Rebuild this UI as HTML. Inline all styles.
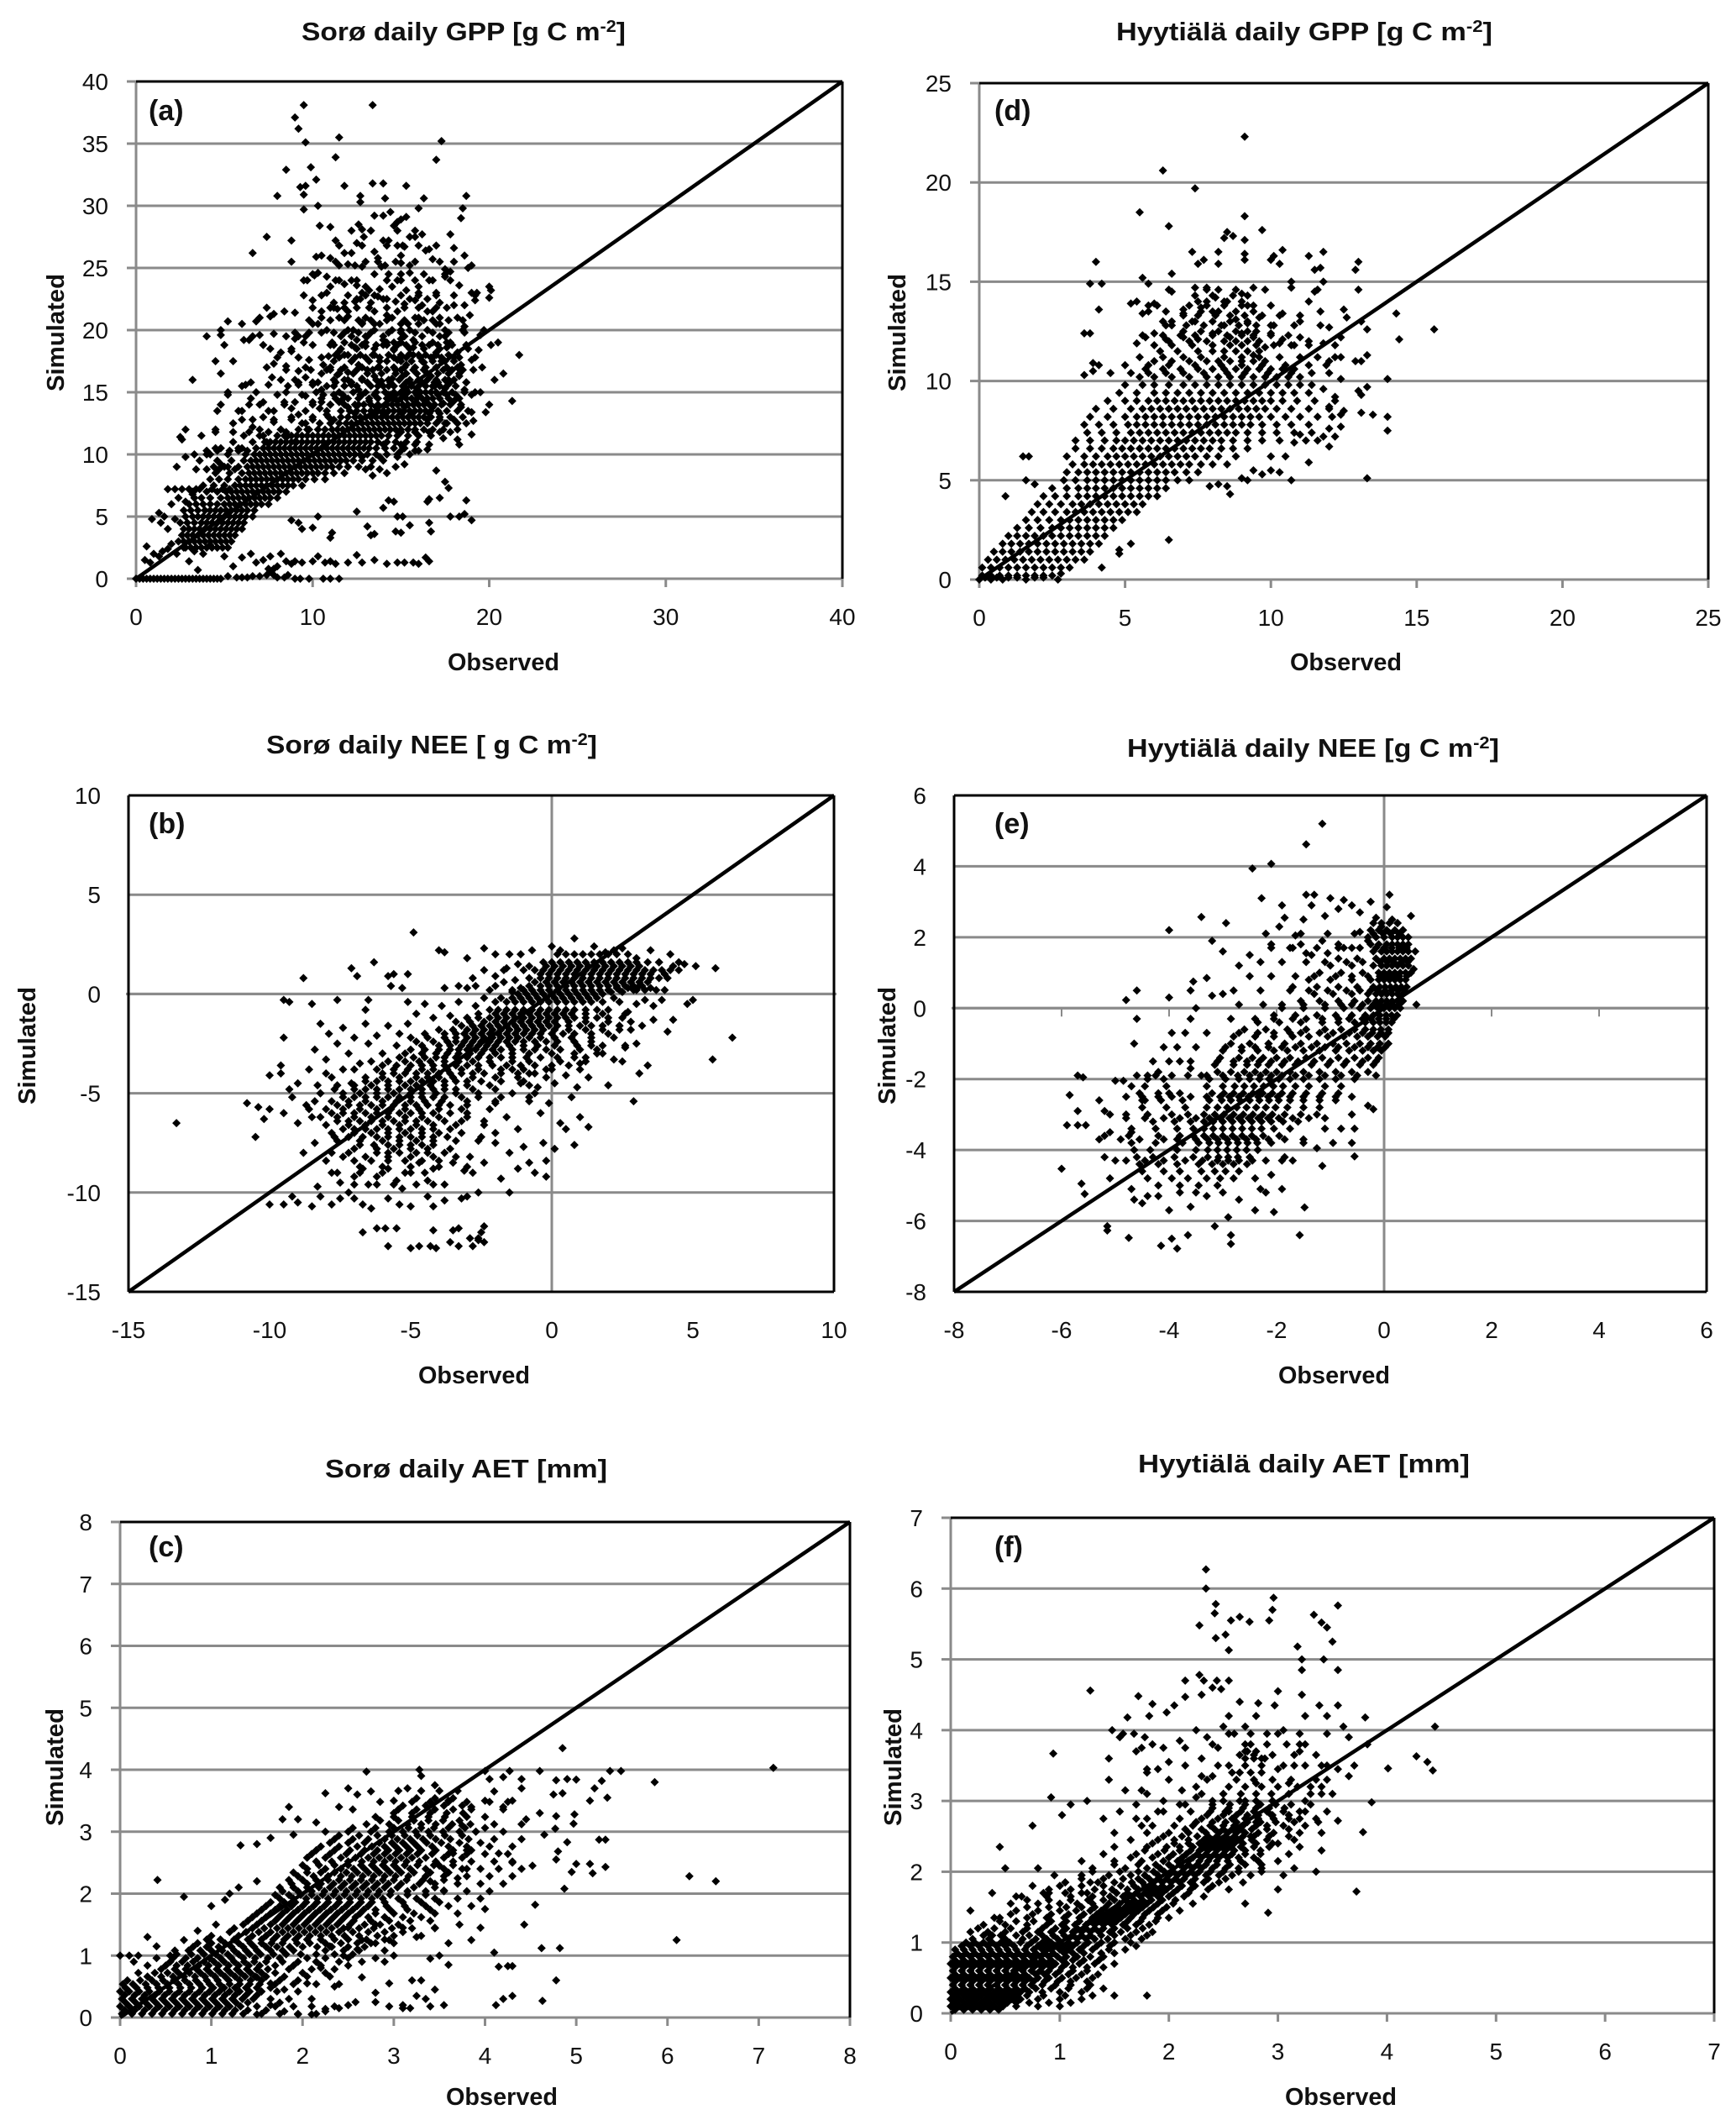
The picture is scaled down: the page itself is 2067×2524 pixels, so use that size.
<!DOCTYPE html>
<html lang="en">
<head>
<meta charset="utf-8">
<title>Simulated vs observed daily GPP, NEE and AET at Sorø and Hyytiälä</title>
<style>
html,body{margin:0;padding:0;background:#fff}
svg{display:block}
text{font-family:"Liberation Sans",sans-serif;fill:#111}
.bold{font-weight:bold}
</style>
</head>
<body>
<svg id="figure" xmlns="http://www.w3.org/2000/svg" width="2067" height="2524" viewBox="0 0 2067 2524">
<rect width="2067" height="2524" fill="#fff"/>
<g>
<text class="bold" x="359" y="48" font-size="31" textLength="386" lengthAdjust="spacingAndGlyphs">Sorø daily GPP [g C m<tspan dy="-10" font-size="20">-2</tspan><tspan dy="10">]</tspan></text>
<text class="bold" x="1329" y="48" font-size="31" textLength="448" lengthAdjust="spacingAndGlyphs">Hyytiälä daily GPP [g C m<tspan dy="-10" font-size="20">-2</tspan><tspan dy="10">]</tspan></text>
<text class="bold" x="317" y="897" font-size="31" textLength="394" lengthAdjust="spacingAndGlyphs">Sorø daily NEE [ g C m<tspan dy="-10" font-size="20">-2</tspan><tspan dy="10">]</tspan></text>
<text class="bold" x="1342" y="901" font-size="31" textLength="443" lengthAdjust="spacingAndGlyphs">Hyytiälä daily NEE [g C m<tspan dy="-10" font-size="20">-2</tspan><tspan dy="10">]</tspan></text>
<text class="bold" x="387" y="1759" font-size="31" textLength="336" lengthAdjust="spacingAndGlyphs">Sorø daily AET [mm]</text>
<text class="bold" x="1355" y="1753" font-size="31" textLength="395" lengthAdjust="spacingAndGlyphs">Hyytiälä daily AET [mm]</text>
</g>
</svg>
<script>
/* Tick labels */
const ticksSoroGppX=[0,10,20,30,40];
const ticksSoroGppY=[0,5,10,15,20,25,30,35,40];
const ticksHyyGpp=[0,5,10,15,20,25];
const ticksSoroNee=[-15,-10,-5,0,5,10];
const ticksHyyNee=[-8,-6,-4,-2,0,2,4,6];
const ticksSoroAet=[0,1,2,3,4,5,6,7,8];
const ticksHyyAet=[0,1,2,3,4,5,6,7];

/* Observed,simulated pairs. GPP and Sorø NEE are in tenths; Hyytiälä NEE and all AET in hundredths. */
const soroGppPairs=[95,381,134,381,90,371,92,362,96,351,115,355,113,339,173,352,170,337,85,329,99,331,102,321,93,315,96,316,95,309,80,308,118,316,134,318,140,318,153,316,127,308,127,303,141,306,187,308,185,298,184,290,163,306,160,298,95,297,103,300,144,295,140,292,135,292,
113,272,122,262,118,262,105,260,102,259,110,258,115,252,120,253,124,252,128,251,125,270,126,285,128,281,133,280,129,275,135,263,137,258,140,272,143,272,141,252,139,251,146,284,150,289,148,287,153,291,148,268,152,267,158,275,155,275,162,277,150,254,150,260,155,252,164,264,166,265,168,257,175,249,178,277,180,266,186,260,190,252,188,250,66,262,74,275,88,272,88,255,104,284,110,283,
95,240,101,244,103,246,108,243,113,240,118,237,122,240,125,236,128,230,132,232,138,233,143,245,150,240,153,232,155,246,160,230,163,245,166,240,170,230,175,243,178,247,183,236,190,230,200,235,201,232,200,226,193,230,192,224,100,224,108,230,112,222,118,222,124,223,127,225,133,222,137,227,142,225,147,223,152,221,158,224,162,220,172,222,180,220,186,220,
74,218,70,210,68,207,76,211,78,213,84,215,90,214,105,215,110,218,114,217,118,218,120,211,123,200,128,206,131,195,135,205,142,212,146,190,150,200,154,205,157,192,160,210,165,200,168,215,172,205,175,195,178,190,185,200,189,212,195,196,197,200,40,195,48,200,60,205,61,192,66,195,70,196,78,197,85,195,90,193,96,195,100,205,105,198,111,190,116,195,125,192,140,192,150,193,182,210,186,203,52,207,48,196,
50,188,64,192,72,188,76,185,82,182,88,183,92,178,98,176,106,172,112,188,115,183,118,180,122,175,126,172,130,187,134,180,138,175,142,188,146,184,150,178,153,172,157,186,160,180,163,174,166,188,170,182,173,175,176,186,180,178,184,172,188,185,194,184,201,188,205,190,217,180,213,143,208,165,203,160,190,176,196,170,45,175,55,175,78,173,85,171,109,179,124,186,137,170,148,176,155,181,168,178,182,182,
48,165,60,155,65,158,68,150,74,170,77,162,82,160,86,155,92,167,96,162,100,158,105,152,110,168,114,164,118,160,122,156,126,152,131,168,135,163,139,159,143,155,147,168,151,163,155,158,159,153,163,168,167,163,171,158,175,153,179,168,183,163,187,158,192,150,186,152,195,150,52,150,32,160,112,155,120,166,128,161,137,155,145,161,153,152,161,158,169,155,177,160,
52,148,48,140,46,135,58,135,65,145,70,140,75,135,80,148,84,142,88,137,92,132,96,147,100,142,104,137,108,132,112,148,116,143,120,138,124,133,128,148,132,143,136,138,140,133,144,148,148,143,152,138,156,133,160,148,164,143,168,138,172,133,176,148,180,143,184,138,188,135,200,140,190,134,198,134,110,140,118,146,126,140,134,133,142,140,150,134,158,141,166,133,174,141,
37,115,25,114,28,120,26,112,45,120,55,125,60,128,66,122,70,115,74,110,78,126,82,120,86,115,90,110,94,125,97,120,175,125,178,118,182,120,187,125,190,116,191,127,174,113,
23,90,28,98,33,100,36,95,40,100,45,105,48,92,52,90,58,105,151,106,155,100,160,103,165,104,183,108,182,112,
18,72,22,72,26,72,30,72,34,72,130,88,134,83,138,88,142,85,147,90,152,92,170,87,175,78,177,73,
20,60,24,65,28,62,32,68,125,54,140,57,143,63,146,62,151,50,165,62,166,64,172,65,187,63,16,50,13,53,9,48,183,50,186,52,190,47,178,50,
14,45,18,40,22,48,88,47,92,45,94,40,100,41,103,50,111,37,110,33,131,42,133,35,135,36,147,38,150,37,148,50,155,43,166,45,167,38,
6,26,5,15,8,13,10,20,13,18,15,22,18,24,20,28,23,20,27,25,30,14,33,22,35,7,38,20,42,27,46,25,50,18,55,10,60,17,65,20,68,13,72,15,75,8,78,8,85,14,88,12,82,20,76,18,80,10,90,14,94,13,100,14,103,18,107,13,110,14,113,12,120,13,125,19,128,13,135,15,142,12,148,13,152,13,157,13,160,12,164,17,166,14,
52,2,57,1,60,1,63,1,66,2,70,2,74,3,76,6,78,3,80,1,84,1,86,3,90,0,93,0,98,0,106,0,110,0,115,0];
/* Dense-cloud readings, one row per simulated level: [simulated, observed, observed, ...] */
const soroGppRows=[[0,0,2,4,6,8,10,12,14,16,18,20,22,24,26,28,30,32,34,36,38,40,42,44,46,48],
[25,28,31,34,37,40,43,46,49,52],[30,24,27,30,33,36,39,42,45,48,51,54],[35,26,29,32,35,38,41,44,47,50,53,56],[40,27,30,33,36,39,42,45,48,51,54,57,60],[45,25,29,33,37,40,43,46,49,52,55,58,61],[50,28,32,35,38,41,44,47,50,53,56,59,62,66],[55,27,31,35,39,42,45,48,51,54,57,60,63,67],[60,30,34,38,42,46,50,53,56,59,62,65,68,71,75],[65,33,37,42,48,52,55,58,61,64,67,70,73,76,80],[70,32,40,46,51,54,57,60,63,66,69,72,75,78,81,85],[75,38,44,50,56,59,62,65,68,71,74,77,80,83,86,89,94],[80,42,47,52,58,62,65,68,71,74,77,80,83,86,89,92,96,101,107],[85,45,53,60,64,67,70,73,76,79,82,85,88,91,94,97,100,103,107,112,118],[90,44,50,58,63,66,69,72,75,78,81,84,87,90,93,96,99,102,105,108,111,115,120,126,133],[95,46,54,61,65,68,71,74,77,80,83,86,89,92,95,98,101,104,107,110,113,116,119,123,128,134,140],[100,42,52,62,67,70,73,76,79,82,85,88,91,94,97,100,103,106,109,112,115,118,121,124,127,131,136,142,148],[105,48,60,68,72,75,78,81,84,87,90,93,96,99,102,105,108,111,114,117,120,123,126,129,132,136,141,146,152],[110,55,66,73,76,79,82,85,88,91,94,97,100,103,106,109,112,115,118,121,124,127,130,133,137,142,147,153,159],[115,61,72,80,84,88,91,94,97,100,103,106,109,112,115,118,121,124,127,130,133,136,139,143,148,154,160,167],[120,70,82,92,98,103,107,111,114,117,120,123,126,129,132,135,138,141,144,147,150,154,158,163,168,174],[125,96,104,110,115,119,122,125,128,131,134,137,140,143,146,149,152,155,158,161,165,170,176,182],[130,72,88,100,109,116,120,124,127,130,133,136,139,142,145,148,151,154,157,160,163,167,172,178,185],[135,60,78,96,108,116,121,125,129,133,137,140,143,146,149,152,155,158,161,164,167,171,176,182],[140,64,84,100,110,118,124,129,133,137,141,145,148,151,154,157,160,163,166,169,173,178,184],[145,105,113,120,126,132,137,142,146,150,153,156,159,162,165,168,172,177,183],[150,85,102,115,123,130,136,141,146,150,154,158,161,164,167,170,174,179,186],[155,108,118,125,133,140,146,151,156,160,164,168,172,176,181],[160,90,112,120,128,136,143,149,155,160,165,170,175,180],[165,105,115,123,131,139,147,153,159,165,171,177,183],[170,96,110,118,128,138,146,152,158,164,170,176,182],[175,112,122,132,142,150,156,162,168,175,180],[180,113,120,127,135,143,150,157,164,170,177],[185,88,116,125,135,146,155,163,172],[190,95,118,130,142,150,158,168,176],[195,92,122,130,140,152,162,172],[200,108,120,135,145,155,165,175],[205,103,128,138,150,160,170],[210,105,115,130,145,158,172],[215,120,135,148,165],[225,125,140,155,165],[235,110,130,145,160],[245,100,135,150,175],
[148,94,106,117,127,135,143,151,159,171,181,190],[158,92,103,113,122,131,138,144,153,162,169,178,187],[168,85,99,108,116,125,134,142,150,157,163,174,185,191],[178,80,92,105,115,124,130,138,146,153,161,167,173,183,192],[188,100,110,122,128,136,140,148,153,162,171,179,187],[198,90,98,112,118,126,133,143,150,158,168,177,186],[208,98,110,118,126,133,142,152,163,168,177,185],[218,100,112,125,132,142,152,160,170,176],[228,95,105,120,130,135,150,160,170,180,192],[240,97,115,125,142,148,158,168,178],[255,113,130,137,147,158,172,180],[268,115,128,142,151,160,170],[280,122,133,148,158],
[72,36,43,49,53],[88,34,40,47,56],[103,40,46,53,58,63,150,158],[118,45,55,64,75,85,150,158,166,172],[128,66,78,88,100,112,165,172,180],[142,72,90,105,115],[156,62,75,92,100],[108,140,150,158,166],[98,128,138,148]];

const hyyGppPairs=[91,223,63,206,74,197,55,185,91,183,65,178,97,176,85,175,87,173,91,171,84,172,73,165,82,165,75,159,77,161,82,159,91,164,91,161,101,163,100,161,104,166,103,159,113,163,118,165,115,156,117,157,130,160,129,156,40,160,38,149,42,149,66,154,56,152,58,149,60,139,64,135,41,136,156,126,143,134,133,51,107,50,113,59,
0,0,2,1,4,0,6,1,8,0,10,1,13,1,16,0,19,1,22,1,27,0,28,3,42,6,48,13,52,18,65,20,48,15,9,42,16,50,19,48,17,62,15,62,86,43,85,47,82,48,79,47,92,50,97,53,100,55,103,54,94,55,90,51,105,62,100,62,108,69,112,70,116,70,120,67,122,72,118,72,124,77,114,74,110,73,121,82,120,76,124,83,131,84,140,75,140,82,135,83,125,85,120,87,130,95,131,93,133,97,118,96,122,92,124,101,129,110,131,110,133,113,140,101,124,112,122,118,120,110,113,120,118,119,144,121,124,122,133,126,110,122,36,124,38,124,39,105,39,109,41,108,36,103,
56,134,58,135,61,138,63,130,66,128,70,134,73,130,76,137,80,135,84,128,88,131,92,138,96,132,100,128,104,134,110,130,113,140,117,128,120,127,125,136,126,132,131,130,52,139,54,140,66,145,70,136,75,140,78,146,81,142,85,140,88,146,90,144,94,147,98,146,92,129,66,130,65,146,74,147,78,147,82,146,117,135,116,146,115,145,130,146,118,150,107,150,107,147,54,119,57,122,60,124,64,121,70,122,75,121,80,124,86,122,90,124,94,122,100,124,104,121,103,119,108,118,98,117,94,113];
const hyyGppRows=[[2,1,4,7,10,13,16,19,22,25],[6,1,4,7,10,13,16,19,22,25,28,31],[10,3,6,9,12,15,18,21,24,27,30,33,36],[14,5,8,11,14,17,20,23,26,29,32,35,38],[18,8,11,14,17,20,23,26,29,32,35,38,41],[22,10,13,16,19,22,25,28,31,34,37,40,43],[26,13,17,21,25,28,31,34,37,40,43,46],[30,16,20,24,28,31,34,37,40,43,46,49],[34,18,22,26,30,33,36,39,42,45,48,51,54],[38,20,24,28,32,35,38,41,44,47,50,53,56],[42,22,26,30,34,37,40,43,46,49,52,55,58,61],[46,25,30,34,37,40,43,46,49,52,55,58,61,64],[50,29,33,37,40,43,46,49,52,55,58,61,64,68,72],[54,30,34,37,40,43,46,49,52,55,58,61,64,67,71,75],[58,32,36,39,42,45,48,51,54,57,60,63,66,69,72,76,80,85],[62,30,36,40,44,47,50,53,56,59,62,65,68,71,74,78,82,88],[66,33,38,42,46,49,52,55,58,61,64,67,70,73,76,79,83,87,92],[70,33,38,43,47,50,53,56,59,62,65,68,71,74,77,80,83,87,92,97,103],[74,37,42,47,52,55,58,61,64,67,70,73,76,79,82,85,88,92,97,102,108],[78,36,41,46,51,54,57,60,63,66,69,72,75,78,81,84,87,90,93,97,102,107,113],[82,38,44,50,54,57,60,63,66,69,72,75,78,81,84,87,90,93,96,100,105,110,116],[86,40,46,52,56,59,62,65,68,71,74,77,80,83,86,89,92,95,98,102,107,113,120],[90,44,50,54,58,61,64,67,70,73,76,79,82,85,88,91,94,97,100,104,109,115,122],[94,48,54,60,64,68,72,76,80,84,88,92,96,100,104,108,113],[98,50,56,60,65,70,74,78,82,86,90,94,98,102,106,110,114],[102,55,60,66,72,78,82,86,90,94,98,102,106,110],[106,57,63,69,75,80,84,88,92,96,100,104,108],[110,60,66,72,78,82,86,90,94,98],[115,62,68,75,80,84,88,92,96],[120,65,72,78,84,88,92,96],[125,70,76,82,88,92,95],[130,74,80,86,92],[135,76,82,88,94],[140,78,84,90],
[104,45,52,58,64,70,77,85,91,99,107,114,120],[108,50,58,65,74,83,90,97,105,113,119],[112,55,63,70,76,84,90,96,103,110,116,122],[118,60,66,73,80,86,90,95,101,107,113],[123,56,63,69,74,80,85,90,94,100,106],[128,64,71,77,83,89,95,101,108],[133,70,75,81,86,91,97,103,110],[138,58,72,78,84,90,94,100],[143,74,80,87,92]];

const soroNeePairs=[-133,-65,-49,31,-88,8,64,-22,57,-33,58,13,51,14,29,-54,-105,-72,-108,-55,-104,-57,-100,-58,-102,-63,-100,-41,-96,-36,-95,-3,-93,-4,-85,-5,-76,-3,-66,-8,-65,-3,-58,9,-51,-4,-56,10,-71,13,-69,9,-63,16,-51,10,-57,4,-53,3,
-67,-120,-62,-118,-59,-118,-55,-118,-42,-119,-35,-119,-33,-118,-24,-117,-25,-120,-29,-123,-26,-123,-24,-125,-58,-127,-50,-128,-47,-127,-43,-127,-41,-128,-36,-125,-33,-127,-28,-127,-26,-124,
-100,-106,-95,-106,-90,-105,-92,-102,-85,-107,-82,-102,-78,-106,-75,-103,-70,-103,-67,-106,-64,-108,-58,-103,-54,-106,-50,-107,-44,-102,-42,-107,-38,-104,-32,-103,-30,-102,-26,-100,-15,-100,
-83,-97,-78,-90,-75,-95,-72,-100,-70,-92,-67,-88,-65,-96,-62,-92,-58,-88,-55,-94,-53,-98,-50,-90,-47,-85,-44,-94,-42,-88,-38,-96,-35,-85,-31,-89,-28,-90,-24,-85,-18,-93,-12,-88,-6,-90,-2,-92,-8,-85,
-88,-80,-84,-75,-80,-84,-77,-72,-29,-82,-25,-72,-20,-75,-15,-80,-10,-77,-3,-75,-2,-84,1,-78,5,-68,8,-76,
-95,-60,-92,-52,-90,-65,-87,-56,-85,-62,-82,-50,-24,-64,-20,-55,-16,-62,-12,-68,-8,-52,-4,-60,-1,-55,3,-65,7,-52,10,-62,13,-67,
-96,-40,-93,-48,-90,-45,-86,-38,-83,-46,-80,-40,-77,-48,-74,-38,-71,-45,-14,-38,-11,-45,-8,-40,-5,-47,-2,-38,1,-45,5,-41,9,-47,13,-42,20,-46,25,-34,31,-40,34,-36,
-84,-28,-80,-33,-76,-25,-72,-30,-68,-35,-65,-25,10,-35,14,-26,18,-30,22,-33,26,-27,30,-25,
-95,-22,-82,-15,-79,-20,-74,-17,-70,-22,-66,-15,-62,-21,-58,-16,-54,-20,-51,-15,24,-16,28,-18,32,-16,36,-13,41,-19,43,-13,
-48,-10,-45,-5,-42,-12,-39,-6,-36,-11,-33,-4,-30,-12,-27,-6,24,-4,27,-9,30,-5,33,-3,36,-6,39,-3,48,-5,50,-3,
-30,3,-27,4,-33,4,-38,3,-22,2,-20,4,-17,6,-14,1,-11,3,21,1,23,3,25,1,27,3,29,2,31,4,33,2,35,3,37,2,40,2,
-40,22,-38,21,-30,18,-24,23,-20,20,-15,20,-11,20,-7,22,0,24,3,22,8,28,11,20,15,24,19,21,22,22,25,23,27,20,30,18,35,22,38,16,42,20,45,16,47,15,43,14,-28,8,-24,12,-20,9,-17,12,-13,7,-10,12,-16,13,-12,15,-8,14];
const soroNeeRows=[[20,2,5,8,11,14,17,20,23],[16,-3,0,3,6,9,12,15,18,21,24,27,30,34,38],[12,-6,-3,0,3,6,9,12,15,18,21,24,27,30,33,36,39,42,45],[8,-8,-4,-1,2,5,8,11,14,17,20,23,26,29,32,35,38,41],[4,-8,-4,-1,2,5,8,11,14,17,20,23,26,29,32],[0,-12,-9,-6,-3,0,3,6,9,12,15,18],[-4,-20,-16,-13,-10,-7,-4,-1,2,5,8,11,14,18],[-8,-22,-19,-16,-13,-10,-7,-4,-1,2,5,8,12,16,20],[-12,-30,-26,-22,-19,-16,-13,-10,-7,-4,-1,2,5,8,12,16,20,25],[-16,-32,-28,-25,-22,-19,-16,-13,-10,-7,-4,-1,2,6,10,14,18,24],[-20,-45,-38,-34,-31,-28,-25,-22,-19,-16,-13,-10,-7,-4,0,4,8,14,20],[-24,-48,-42,-37,-34,-31,-28,-25,-22,-19,-16,-13,-10,-6,-2,2,8,14],[-28,-50,-45,-40,-36,-33,-30,-27,-24,-21,-18,-14,-10,-6,-2,3,10,16],[-32,-54,-49,-45,-41,-38,-34,-30,-26,-22,-18,-14,-9,-4,2,8,12],[-36,-60,-55,-50,-46,-42,-38,-34,-30,-26,-21,-16,-11,-6,0,6],[-40,-60,-56,-52,-48,-44,-40,-36,-32,-28,-24,-18,-12,-6],[-44,-66,-62,-58,-54,-50,-46,-42,-38,-34,-30,-25,-18,-10],[-48,-70,-66,-62,-58,-54,-50,-46,-42,-38,-34,-28,-20],[-52,-74,-70,-66,-62,-58,-54,-50,-46,-42,-38,-32,-26,-18],[-56,-76,-72,-68,-64,-60,-56,-52,-48,-44,-40,-36,-30],[-60,-78,-74,-70,-66,-62,-58,-54,-50,-46,-42,-36,-30],[-64,-76,-72,-68,-64,-60,-56,-52,-48,-44,-38,-32],[-68,-74,-70,-66,-62,-58,-54,-50,-46,-42,-36],[-72,-72,-67,-62,-58,-54,-50,-46,-42,-37],[-76,-68,-63,-58,-54,-50,-46,-42],[-80,-78,-72,-62,-58,-54,-48,-44,-38],[-84,-70,-64,-58,-52,-46,-40],[-90,-76,-68,-60,-52,-45],[-96,-70,-62,-56,-48,-42],
[14,-2,1,4,7,10,13,16,19,22,25,28,31],[10,-4,-1,2,5,8,11,14,17,20,23,26,29,32,35,40],[6,-6,-2,1,4,7,10,13,16,19,22,25,28,31,34],[2,-14,-10,-7,-4,-1,2,5,8,11,14,17,20,24,30],[-2,-24,-18,-14,-11,-8,-5,-2,1,4,7,10,13,16,22],[-10,-26,-20,-17,-14,-11,-8,-5,-2,1,4,7,12,18,26],[-14,-34,-29,-24,-20,-17,-14,-11,-8,-5,-2,1,6,12,20,28],[-18,-40,-35,-30,-27,-24,-21,-18,-15,-12,-9,-6,-3,1,6,12,18,24],[-22,-50,-44,-38,-34,-30,-27,-24,-21,-18,-15,-12,-8,-4,1,7,14,22],[-26,-55,-46,-40,-36,-32,-29,-26,-23,-20,-15,-10,-5,1,9,18,26],[-30,-60,-52,-46,-41,-37,-33,-29,-25,-20,-14,-8,0,8,16],[-34,-64,-58,-52,-47,-43,-38,-33,-28,-22,-14,-8,3,12],[-38,-70,-62,-56,-51,-46,-42,-37,-32,-26,-18,-10,0,10],[-42,-78,-66,-60,-54,-48,-44,-40,-35,-28,-20,-12,-2],[-46,-76,-70,-64,-58,-52,-48,-43,-38,-30,-22,-8],[-50,-82,-74,-68,-62,-56,-50,-46,-41,-34,-26,-14,-6],[-54,-84,-78,-72,-66,-60,-55,-50,-45,-39,-30,-20,-8],[-58,-86,-80,-74,-68,-62,-57,-52,-47,-40,-32,-22],[-62,-82,-76,-70,-64,-58,-52,-46,-40,-30],[-66,-80,-72,-66,-60,-54,-48,-42,-34,-24],[-70,-78,-70,-64,-58,-52,-46,-40,-32,-20],[-74,-76,-68,-60,-54,-48,-42,-34,-26],[-78,-70,-62,-56,-50,-44,-36],[-82,-74,-66,-58,-50,-42,-34],[-87,-68,-60,-50,-40,-30]];

const hyyNeePairs=[-115,520,-145,462,-210,407,-245,394,-228,310,-340,257,-294,240,-400,220,-520,-360,-600,-453,-563,-495,-557,-524,-515,-615,-515,-627,-475,-648,-415,-670,-395,-650,-385,-678,-365,-640,-285,-640,-285,-665,-315,-615,-157,-640,-148,-562,-115,-445,-55,-418,-480,23,-460,50,-400,30,-465,-100,-460,-30,-350,0,-355,75,-360,50,-330,85,-300,40,-320,35,-215,-100,
-570,-190,-560,-195,-585,-245,-570,-290,-590,-330,-570,-330,-555,-330,-530,-260,-520,-290,-510,-300,-500,-205,-510,-350,-530,-370,-520,-420,-510,-480,-500,-430,-480,-300,-470,-350,-485,-205,-470,-220,-450,-260,-440,-190,-420,-180,-400,-240,-380,-150,-360,-170,-340,-190,
-470,-510,-465,-540,-450,-550,-440,-530,-420,-530,-400,-570,-380,-520,-360,-560,-350,-520,-330,-530,-300,-520,-290,-590,-270,-540,-240,-570,-230,-510,-220,-520,-205,-575,-190,-510,-185,-420,-210,-470,-170,-430,-150,-380,-125,-395,-110,-340,-95,-380,-80,-340,-60,-380,-55,-340,-60,-300,-20,-285,-30,-275,
-320,190,-300,160,-270,120,-250,150,-220,210,-210,180,-195,230,-175,170,-155,180,-145,155,-135,150,-115,190,-105,155,-85,180,-75,170,-60,170,-45,215,-30,190,-190,290,-185,255,-165,205,-150,250,-130,320,-145,320,-135,290,-110,260,-100,310,-85,280,-75,305,-60,290,-45,270,-25,300,-15,255,-5,230,5,285,10,320,15,250,25,240,35,220,50,260,55,110,58,160,60,10];
const hyyNeeRows=[[240,-20,-5,10,25],[220,-25,-10,5,20,35],[200,-30,-15,0,15,25,35,45],[180,-25,-10,5,15,25,35,45],[160,-20,-5,5,15,25,35,45],[140,-85,-50,-15,0,10,20,30,40,50],[120,-100,-60,-20,-5,5,15,25,35,45],[100,-120,-80,-40,-10,0,10,20,30,40,50],[80,-140,-100,-60,-25,-10,0,10,20,30,40],[60,-170,-125,-85,-50,-20,-8,2,12,22,32,42],[40,-130,-95,-60,-30,-15,-5,5,15,25,35],[20,-155,-120,-85,-55,-30,-15,-5,5,15,25,35],[0,-190,-150,-110,-75,-45,-25,-12,0,10,20,30],[-20,-205,-165,-125,-90,-60,-35,-20,-8,4,14,24],[-40,-235,-195,-155,-115,-85,-55,-35,-20,-8,4,14],[-60,-260,-220,-180,-145,-110,-80,-55,-35,-20,-6,8],[-80,-280,-240,-205,-170,-140,-105,-75,-50,-30,-12,2],[-100,-285,-250,-215,-185,-155,-125,-95,-70,-45,-25,-8,8],[-120,-300,-265,-235,-205,-180,-150,-120,-90,-65,-40,-20,-5],[-140,-305,-270,-245,-225,-200,-175,-145,-115,-85,-55,-30,-10],[-160,-315,-280,-255,-235,-215,-190,-165,-135,-105,-75,-45,-20],[-180,-310,-285,-260,-240,-220,-200,-175,-150,-120,-90,-60,-30],[-200,-440,-410,-325,-295,-270,-250,-232,-214,-196,-175,-150,-120,-90,-55],[-220,-445,-405,-330,-300,-278,-260,-242,-224,-206,-188,-165,-140,-110,-80],[-240,-455,-420,-380,-320,-298,-280,-262,-244,-226,-208,-190,-170,-145,-115,-85],[-260,-445,-415,-375,-325,-302,-285,-268,-250,-232,-214,-196,-175,-150,-120,-90],[-280,-450,-405,-370,-330,-310,-292,-274,-256,-238,-220,-202,-180,-150,-120],[-300,-440,-395,-365,-335,-315,-298,-280,-262,-244,-226,-208,-185,-155,-125],[-320,-430,-390,-360,-335,-318,-300,-282,-264,-246,-228,-210,-188,-160],[-340,-470,-425,-385,-355,-335,-318,-300,-282,-264,-246,-228,-205,-175],[-360,-475,-420,-380,-355,-335,-318,-300,-282,-264,-246,-225,-195],[-380,-470,-425,-375,-345,-325,-308,-290,-272,-254,-236,-210],[-400,-465,-435,-385,-350,-328,-310,-292,-274,-256,-235],[-420,-460,-430,-390,-355,-328,-308,-290,-272,-250],[-440,-455,-420,-385,-345,-320,-300,-280,-255],[-460,-450,-410,-380,-340,-315,-295,-270],[-480,-440,-395,-365,-330,-305,-280,-240],[-500,-420,-380,-345,-310],
[-190,-460,-425,-395,-365,-330,-300,-272,-250,-230,-210,-190,-165,-140,-110,-80,-50,-15],[-250,-480,-450,-420,-395,-360,-330,-305,-288,-270,-252,-234,-216,-198,-175,-150,-120,-90,-60],[-310,-480,-445,-410,-380,-350,-325,-305,-288,-270,-252,-234,-216,-196,-170,-140,-110],[-370,-490,-455,-410,-385,-350,-328,-310,-292,-274,-256,-238,-215,-185,-150],[-430,-480,-445,-410,-370,-338,-310,-290,-270,-245,-220,-190],[-150,-430,-400,-360,-310,-280,-255,-232,-210,-185,-160,-130,-100,-70,-40,-15],[-110,-410,-385,-350,-295,-265,-240,-215,-190,-165,-135,-110,-85,-55,-30,-12,2],[-70,-395,-370,-330,-270,-235,-205,-175,-155,-120,-95,-65,-40,-22,-6,8],[-30,-360,-285,-240,-205,-170,-145,-115,-85,-65,-40,-25,-10,4,18],[10,-270,-225,-190,-150,-110,-80,-60,-40,-20,-8,4,16,28],[50,-280,-230,-175,-140,-105,-70,-45,-25,-12,2,14,26,38],[90,-250,-210,-165,-130,-90,-60,-30,-8,4,16,28,42],[130,-230,-190,-145,-110,-70,-40,-8,6,18,32,44],[170,-210,-170,-125,-85,-45,-15,0,14,28,42],[210,-155,-105,-55,-20,-2,12,28]];

const soroAetPairs=[716,403,586,380,624,228,653,220,610,125,41,222,70,195,485,435,549,398,537,398,528,382,520,370,515,350,534,355,525,287,532,287,532,243,515,248,518,233,500,248,497,313,498,328,490,385,500,384,478,383,460,398,400,398,427,398,270,397,328,400,
475,360,485,362,478,325,460,330,440,370,430,350,420,340,405,385,410,365,440,385,420,388,445,320,465,295,477,305,490,283,478,255,495,235,487,208,480,268,452,245,430,250,415,265,455,182,443,150,425,83,430,83,462,112,478,60,482,112,463,27,410,105,415,82,430,35,412,20,420,30,
400,350,385,340,390,300,380,270,375,310,360,350,345,375,330,390,315,370,300,350,275,365,260,360,250,370,240,340,225,362,215,315,195,320,185,340,190,295,178,320,165,290,150,280,132,278,
380,240,365,265,350,245,400,175,395,145,385,125,372,150,360,120,345,145,325,130,310,145,295,125,280,150,265,125,250,145,370,225,355,205,340,220,
350,100,340,95,330,60,318,15,300,100,290,90,275,120,260,110,245,100,230,115,215,90,360,85,345,45,335,30,320,60,310,20,295,55,280,25,265,65,250,20,235,50,220,80,205,55,355,20,340,18,325,35,310,15,295,18,280,40,258,25,240,15,225,14,210,30,195,60,180,45,165,55,150,65,225,10,210,5,195,5,180,10,165,20,150,5,
30,130,20,100,10,100,0,100,15,90,40,115,55,100,70,125,85,140,100,180,115,190,120,200,130,210,150,220,105,150];
const soroAetRows=[[6,2,13,24,35,46,57,68,79,90,101,112,123,135,155,175,195,215],[18,0,10,21,32,43,54,65,76,87,98,109,120,132,150,170,190,210,235],[30,2,13,24,35,46,57,68,79,90,101,112,123,134,146,165,185],[42,0,10,21,32,43,54,65,76,87,98,109,120,131,142,155,172,195],[54,3,14,28,40,52,64,76,87,98,109,120,131,142,153,170,190,215,240],[66,30,45,58,70,82,93,104,115,126,137,148,160,180,205,230],[78,45,60,72,84,95,106,117,128,139,150,162,185,210,235],[90,55,68,80,92,103,114,125,136,147,160,178,195,215,240,265],[102,62,78,92,105,118,130,142,154,168,182,198,215,235,255],[114,80,95,108,122,135,147,160,172,186,200,216,232,250,268],[126,95,110,125,140,155,168,180,192,205,220,235,250,270,290],[138,120,138,152,165,178,190,202,214,226,240,255,272,290,310],[150,135,150,165,178,190,202,214,226,238,252,268,285,305],[162,145,160,174,186,198,210,222,234,246,258,272,290,310,330],[174,155,170,183,195,207,219,231,243,255,267,280,296,315,340],[186,165,180,192,204,216,228,240,252,264,276,290,310,330,350],[198,170,185,198,210,222,234,246,258,270,282,296,315,335],[210,175,190,205,218,230,242,254,266,278,290,304,322,345],[222,185,200,215,228,240,252,264,276,288,300,314,332,355],[234,190,205,220,235,248,260,272,284,296,308,322,340,360],[246,200,218,235,250,264,276,288,300,312,326,344,365],[258,205,225,242,258,272,284,296,308,320,335,355,375],[270,215,235,252,268,282,294,306,318,330,346,365,385],[282,230,250,268,284,298,310,322,336,352,372,395],[294,240,262,282,298,312,326,340,356,375],[306,255,280,300,316,330,344,360,378,400],[318,285,305,322,338,354,372],[330,300,320,340,358,376],[342,310,335,355,375],[354,325,345,365],
[12,5,16,27,38,49,60,71,82,93,104,115,126,140,160],[24,6,17,28,39,50,61,72,83,94,105,116,127,140,175],[36,5,16,27,38,49,60,71,82,93,104,115,126,138,150],[48,6,18,30,42,54,66,78,90,102,114,126,138,150,165],[60,8,22,35,47,59,71,83,95,107,119,131,143,155,175],[72,20,38,52,64,76,88,99,110,121,132,143,155,170,200,225],[84,30,50,62,74,86,97,108,119,130,141,153,170,190,220,250],[96,40,58,72,85,98,110,122,135,148,162,175,205,225,250,280],[108,60,75,88,100,112,125,138,150,165,178,190,225,245,262,290],[120,85,100,115,130,143,155,166,178,194,208,225,242,260,280,300],[132,100,130,145,160,172,184,196,208,220,232,246,262,282,300,330],[144,125,145,158,172,184,196,208,220,232,245,262,278,298,320,345],[156,140,155,170,182,194,206,218,230,242,256,275,295,318,340],[168,150,165,178,190,202,214,226,238,250,263,280,300,322,345,370],[180,160,175,188,200,212,224,236,248,260,272,292,312,335,360,385],[192,175,190,204,216,228,240,252,264,276,288,305,325,345,370,395],[204,178,195,210,224,236,248,260,272,284,297,315,335,355,380,405],[216,188,205,220,234,246,258,270,282,294,308,328,345,370,395,420],[228,195,212,228,242,254,266,278,290,302,316,335,355,380,405,430],[240,205,225,242,256,268,280,292,304,318,335,355,375,395,415,440],[252,215,232,250,265,278,290,302,314,328,346,365,385,410,430],[264,210,230,248,264,278,290,302,314,326,342,360,380,400,425],[276,220,240,260,276,290,302,314,326,342,360,380,405,430],[288,235,255,272,290,304,318,332,346,362,382,410,440],[300,225,250,275,295,310,324,338,354,372,390,420],[312,270,295,315,330,346,364,384,410,440],[324,280,300,320,338,356,380,400],[336,255,305,325,345,365,385,420],[348,285,320,340,360,380,405,425],[366,305,330,350,370]];

const hyyAetPairs=[234,627,234,600,228,548,243,578,242,565,296,587,295,570,292,555,355,576,333,563,340,552,345,545,350,525,342,500,355,485,322,500,318,518,322,485,243,530,252,535,255,513,257,555,265,560,274,553,128,456,94,367,92,305,444,405,427,363,437,355,442,343,401,346,386,298,378,256,372,172,355,272,291,142,180,25,
228,478,232,470,244,470,255,470,248,458,240,460,230,450,215,470,215,447,205,435,198,425,185,437,182,420,172,448,162,418,148,400,158,395,168,395,178,390,
365,390,380,418,370,350,382,380,338,435,322,450,345,420,355,435,360,405,345,395,325,420,320,370,300,455,297,435,282,438,280,420,265,440,255,420,270,405,250,405,225,400,235,390,210,385,195,375,185,380,175,375,
340,350,320,380,305,400,290,395,275,380,260,395,245,375,230,360,215,375,200,355,190,345,180,340,170,370,155,390,145,360,
355,345,345,330,330,320,315,350,300,345,285,360,270,370,258,340,245,350,230,335,215,350,200,330,
365,335,340,310,325,285,310,325,295,300,280,325,265,340,250,310,240,335,225,305,212,315,195,300,180,345,175,315,160,315,145,330,
337,270,325,300,310,280,295,300,280,270,270,300,255,285,240,300,225,270,210,295,195,285,185,265,170,275,155,285,140,275,125,300,110,295,
340,230,335,200,320,275,310,250,295,280,275,250,102,280,75,265,315,205,300,240,285,210,50,205,45,235,80,205,38,170,60,165,
75,180,90,170,105,185,120,170,135,185,18,145,40,135,300,175,285,200,270,155];
const hyyAetRows=[[10,0,8,16,24,32,40,48,60,80,100],[20,0,8,16,24,32,40,48,56,64,80,100,120],[30,0,8,16,24,32,40,48,56,64,72,84,100,120],[40,2,10,18,26,34,42,50,58,66,74,84,96,110,128],[50,0,8,16,24,32,40,48,56,64,72,80,90,102,115,130],[60,2,10,18,26,34,42,50,58,66,74,82,90,100,112,125],[70,0,8,16,24,32,40,48,56,64,72,80,88,96,106,118,132,150],[80,2,10,18,26,34,42,50,58,66,74,82,90,98,106,116,128,140],[90,4,12,20,28,36,44,52,60,68,76,84,92,100,108,118,130,145,160],[100,14,22,30,38,46,54,64,74,84,92,100,108,116,126,138,150,165],[110,30,38,46,60,72,84,94,104,112,120,128,138,150,165,180],[120,25,40,55,70,84,96,106,116,124,132,140,150,162,176],[130,45,60,76,92,106,118,128,136,144,152,162,174,188],[140,55,75,92,108,122,134,144,152,160,168,178,190],[150,70,90,106,120,132,142,152,160,168,176,186,198],[160,70,90,110,126,140,150,160,168,176,184,194,206],[170,85,105,125,140,152,162,170,178,186,194,204,218],[180,100,120,140,156,168,178,186,194,202,212,224,240],[190,120,140,158,172,182,190,198,206,214,224,236,252],[200,130,155,172,186,196,204,212,220,228,238,250,264],[210,150,172,188,200,210,218,226,234,244,256,270],[220,165,185,200,212,222,230,238,246,254,264,278],[230,178,196,210,220,228,236,244,252,260,270,284],[240,185,205,218,228,236,244,252,260,268,280,295],[250,195,212,226,236,244,252,260,268,278,292],[260,215,230,242,250,258,266,276,290,310],[270,225,240,252,262,272,284,298,315],[280,235,250,262,272,282,294,310],[290,240,255,268,280,292,306],[300,250,265,280,295],[340,265,275,285],[360,270,278,288],[370,272,280],
[5,4,12,20,28,36,44],[15,4,12,20,28,36,44,52,60,72,90,110],[25,4,12,20,28,36,44,52,60,70,85,105,130,150],[35,4,12,20,28,36,44,52,60,68,78,92,108,125,140],[45,4,12,20,28,36,44,52,60,68,76,86,98,110,125],[55,4,12,20,28,36,44,52,60,68,78,86,96,108,120,135],[65,4,12,20,28,36,44,52,60,68,76,84,92,102,112,125,140],[75,4,12,20,28,36,44,52,60,68,76,84,92,102,112,122,136],[85,6,14,22,30,38,46,54,62,70,78,86,94,104,112,122,138,150],[95,10,18,26,34,42,50,58,70,80,88,96,104,112,122,134,146,170],[105,20,35,50,66,78,88,98,108,116,124,132,144,160,175],[115,18,34,50,66,80,92,102,112,120,128,136,146,156,170,185],[125,30,50,70,88,102,114,124,132,140,148,158,170,182],[135,45,70,88,104,118,130,140,148,156,165,176,190,200],[145,60,80,100,115,128,138,148,156,164,172,182,194,210],[155,55,80,100,116,130,145,155,164,172,180,190,204,222],[165,65,88,110,130,146,158,166,174,182,190,200,214,232],[175,90,110,132,148,162,172,182,190,198,208,220,236,255],[185,105,128,150,166,176,186,194,202,210,220,232,246,268],[195,95,120,145,165,178,190,200,208,216,224,234,246,258,275,305],[205,130,160,180,192,204,214,222,230,240,252,264,285],[215,120,150,175,195,208,218,228,236,244,254,266,282,300],[225,140,170,190,204,216,226,234,242,250,258,270,284,310],[235,150,180,198,210,222,232,240,248,256,266,278,292,320],[245,165,190,205,218,232,240,248,256,264,276,290,315],[255,150,180,200,218,234,246,254,262,270,282,296,320,340],[265,175,205,222,238,250,260,268,280,290,305,325],[275,180,210,230,245,258,270,282,296,310,335],[285,190,220,238,252,266,278,290,305,320,345],[295,170,215,240,256,270,284,298,312,330],[310,180,230,250,266,280,294,310,330,350],[320,225,255,270,285,300,318,340],[330,235,262,278,295,312,335],[350,255,270,285,305,325,345],[365,265,278,295,315,335],[380,240,270,290,308,325],[395,255,275,300,320]];

const panelDefs=[
{id:'soro-gpp',pts:soroGppPairs,rows:soroGppRows,div:10,xl:[0,40],yl:[0,40],xt:ticksSoroGppX,yt:ticksSoroGppY,L:162,R:1003,T:97,B:689,frame:'open',tag:'(a)',tagX:177,tagY:143,xlab:[533,798],ylab:[76,396]},
{id:'hyytiala-gpp',pts:hyyGppPairs,rows:hyyGppRows,div:10,xl:[0,25],yl:[0,25],xt:ticksHyyGpp,yt:ticksHyyGpp,L:1166,R:2034,T:99,B:690,frame:'open',tag:'(d)',tagX:1184,tagY:143,xlab:[1536,798],ylab:[1078,396]},
{id:'soro-nee',pts:soroNeePairs,rows:soroNeeRows,div:10,xl:[-15,10],yl:[-15,10],xt:ticksSoroNee,yt:ticksSoroNee,L:153,R:993,T:947,B:1538,frame:'closed',tag:'(b)',tagX:177,tagY:992,xlab:[498,1647],ylab:[42,1245]},
{id:'hyytiala-nee',pts:hyyNeePairs,rows:hyyNeeRows,div:100,xl:[-8,6],yl:[-8,6],xt:ticksHyyNee,yt:ticksHyyNee,L:1136,R:2032,T:947,B:1538,frame:'closed',tag:'(e)',tagX:1184,tagY:992,xlab:[1522,1647],ylab:[1066,1245]},
{id:'soro-aet',pts:soroAetPairs,rows:soroAetRows,div:100,xl:[0,8],yl:[0,8],xt:ticksSoroAet,yt:ticksSoroAet,L:143,R:1012,T:1812,B:2402,frame:'open',tag:'(c)',tagX:177,tagY:1853,xlab:[531,2506],ylab:[75,2104]},
{id:'hyytiala-aet',pts:hyyAetPairs,rows:hyyAetRows,div:100,xl:[0,7],yl:[0,7],xt:ticksHyyAet,yt:ticksHyyAet,L:1132,R:2041,T:1807,B:2397,frame:'open',tag:'(f)',tagX:1184,tagY:1853,xlab:[1530,2506],ylab:[1073,2104]}
];

const NS='http://www.w3.org/2000/svg';
const GRID='#8a8a8a';
const svg=document.getElementById('figure');

function line(parent,x1,y1,x2,y2,color,width,name){
  const el=document.createElementNS(NS,'line');
  el.setAttribute('x1',x1);
  el.setAttribute('y1',y1);
  el.setAttribute('x2',x2);
  el.setAttribute('y2',y2);
  el.setAttribute('stroke',color);
  el.setAttribute('stroke-width',width);
  
  
  parent.appendChild(el);
  return el;
}
function label(parent,str,x,y,size,anchor,name,opts){
  const el=document.createElementNS(NS,'text');
  el.textContent=str;
  el.setAttribute('x',x);
  el.setAttribute('y',y);
  el.setAttribute('font-size',size);
  el.setAttribute('text-anchor',anchor);
  
  
  if(opts&&opts.bold){el.setAttribute('class','bold');}
  if(opts&&opts.len){
    el.setAttribute('textLength',opts.len);
    el.setAttribute('lengthAdjust','spacingAndGlyphs');
  }
  if(opts&&opts.rot){el.setAttribute('transform','rotate(-90 '+x+' '+y+')');}
  parent.appendChild(el);
  return el;
}

panelDefs.forEach(function(p){
  const g=document.createElementNS(NS,'g');
  
  
  svg.appendChild(g);
  const sx=function(v){return p.L+(v-p.xl[0])/(p.xl[1]-p.xl[0])*(p.R-p.L);};
  const sy=function(v){return p.B-(v-p.yl[0])/(p.yl[1]-p.yl[0])*(p.B-p.T);};

  p.yt.forEach(function(t){
    if(t!==p.yl[0]&&t!==p.yl[1]){line(g,p.L,sy(t),p.R,sy(t),GRID,3,'gridline-y');}
    if(p.frame==='open'){line(g,p.L-11,sy(t),p.L,sy(t),GRID,3,'tick-y');}
    label(g,String(t),p.L-33,sy(t)+10,28,'end','y-tick-label');
  });
  p.xt.forEach(function(t){
    if(p.frame==='open'){line(g,sx(t),p.B,sx(t),p.B+10,GRID,3,'tick-x');}
    label(g,String(t),sx(t),p.B+55,28,'middle','x-tick-label');
  });
  if(p.frame==='closed'){
    line(g,sx(0),p.T,sx(0),p.B,GRID,3,'zero-line-x');
    line(g,p.L-3,sy(0),p.R+3,sy(0),GRID,3,'zero-line-y');
    if(p.id==='hyytiala-nee'){
      p.xt.forEach(function(t){line(g,sx(t),sy(0),sx(t),sy(0)+10,GRID,2,'zero-line-tick');});
    }
    line(g,p.L,p.T,p.R,p.T,'#000',3,'frame-top');
    line(g,p.R,p.T,p.R,p.B,'#000',3,'frame-right');
    line(g,p.L,p.T,p.L,p.B,'#000',3,'frame-left');
    line(g,p.L,p.B,p.R,p.B,'#000',3,'frame-bottom');
  }else{
    line(g,p.L,p.B,p.R,p.B,GRID,3,'x-axis-line');
    line(g,p.L,p.T,p.L,p.B,GRID,3,'y-axis-line');
    line(g,p.L,p.T,p.R,p.T,'#000',3,'frame-top');
    line(g,p.R,p.T,p.R,p.B,'#000',3,'frame-right');
  }
  line(g,sx(p.xl[0]),sy(p.yl[0]),sx(p.xl[1]),sy(p.yl[1]),'#000',4.5,'one-to-one-line');

  const marks=document.createElementNS(NS,'g');
  
  
  marks.setAttribute('fill','#000');
  g.appendChild(marks);
  function addPoint(ox,oy){
    const cx=sx(ox/p.div),cy=sy(oy/p.div),r=5;
    const m=document.createElementNS(NS,'path');
    m.setAttribute('d','M'+cx.toFixed(1)+' '+(cy-r).toFixed(1)+'L'+(cx+r).toFixed(1)+' '+cy.toFixed(1)+'L'+cx.toFixed(1)+' '+(cy+r).toFixed(1)+'L'+(cx-r).toFixed(1)+' '+cy.toFixed(1)+'Z');
    
    
    marks.appendChild(m);
  }
  for(let i=0;i+1<p.pts.length;i+=2){addPoint(p.pts[i],p.pts[i+1]);}
  p.rows.forEach(function(row){
    for(let j=1;j<row.length;j++){addPoint(row[j],row[0]);}
  });

  label(g,p.tag,p.tagX,p.tagY,34,'start','panel-tag',{bold:true});
  label(g,'Observed',p.xlab[0],p.xlab[1],29,'start','x-axis-title',{bold:true,len:133});
  label(g,'Simulated',p.ylab[0],p.ylab[1],29,'middle','y-axis-title',{bold:true,len:140,rot:true});
});
</script>
</body>
</html>
